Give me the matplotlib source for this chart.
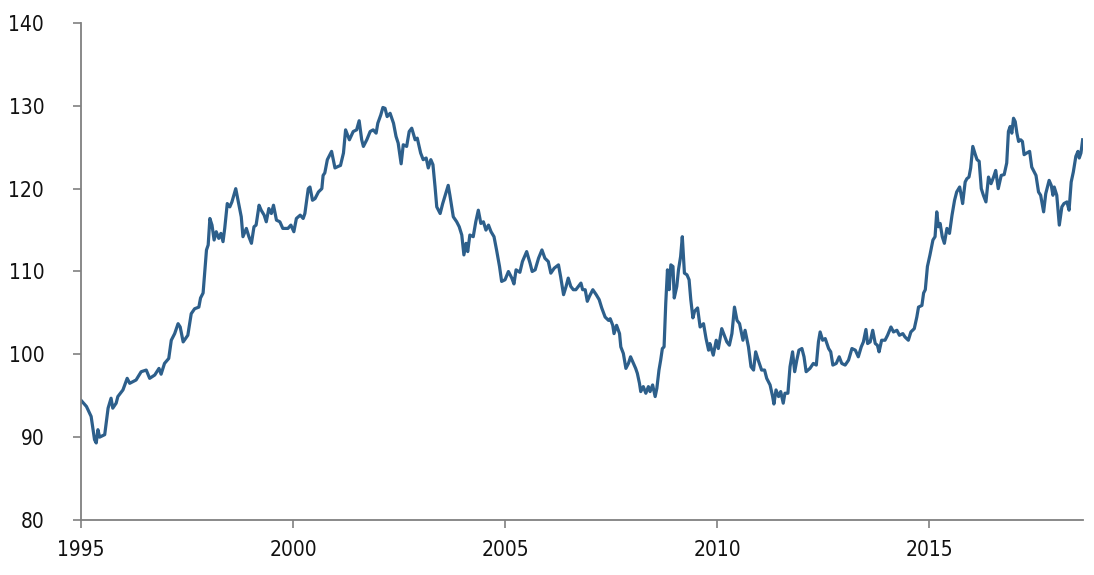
import matplotlib
matplotlib.use("Agg")
import matplotlib.pyplot as plt

# index level (decimal year, value)
years = [
    1995.01, 1995.13, 1995.24, 1995.32, 1995.36, 1995.40, 1995.44, 1995.56, 1995.64, 1995.71,
    1995.75, 1995.83, 1995.87, 1995.99, 1996.09, 1996.15, 1996.30, 1996.42, 1996.54, 1996.62,
    1996.74, 1996.84, 1996.89, 1996.97, 1997.07, 1997.13, 1997.21, 1997.29, 1997.34, 1997.41,
    1997.52, 1997.60, 1997.68, 1997.78, 1997.82, 1997.88, 1997.96, 1998.00, 1998.04, 1998.09,
    1998.14, 1998.19, 1998.25, 1998.30, 1998.35, 1998.39, 1998.45, 1998.51, 1998.56, 1998.65,
    1998.72, 1998.78, 1998.82, 1998.90, 1998.96, 1999.02, 1999.08, 1999.13, 1999.20, 1999.25,
    1999.32, 1999.37, 1999.43, 1999.49, 1999.54, 1999.61, 1999.69, 1999.76, 1999.88, 1999.95,
    2000.02, 2000.08, 2000.17, 2000.24, 2000.28, 2000.36, 2000.40, 2000.46, 2000.52, 2000.60,
    2000.68, 2000.71, 2000.75, 2000.81, 2000.91, 2000.99, 2001.07, 2001.12, 2001.19, 2001.24,
    2001.33, 2001.42, 2001.50, 2001.56, 2001.62, 2001.66, 2001.74, 2001.82, 2001.89, 2001.96,
    2002.00, 2002.07, 2002.12, 2002.17, 2002.22, 2002.29, 2002.37, 2002.43, 2002.48, 2002.55,
    2002.60, 2002.68, 2002.74, 2002.80, 2002.88, 2002.93, 2003.01, 2003.07, 2003.14, 2003.19,
    2003.25, 2003.30, 2003.35, 2003.39, 2003.47, 2003.53, 2003.59, 2003.66, 2003.70, 2003.78,
    2003.86, 2003.92, 2003.98, 2004.03, 2004.08, 2004.12, 2004.17, 2004.25, 2004.31, 2004.37,
    2004.43, 2004.49, 2004.55, 2004.61, 2004.67, 2004.74, 2004.80, 2004.87, 2004.92, 2005.00,
    2005.08, 2005.16, 2005.21, 2005.26, 2005.35, 2005.41, 2005.51, 2005.59, 2005.64, 2005.71,
    2005.79, 2005.87, 2005.94, 2006.02, 2006.08, 2006.16, 2006.26, 2006.31, 2006.38, 2006.44,
    2006.49, 2006.55, 2006.61, 2006.67, 2006.73, 2006.79, 2006.83, 2006.89, 2006.94, 2006.99,
    2007.07, 2007.15, 2007.22, 2007.28, 2007.36, 2007.44, 2007.48, 2007.54, 2007.57, 2007.63,
    2007.70, 2007.73, 2007.79, 2007.85, 2007.91, 2007.96, 2008.03, 2008.08, 2008.12, 2008.17,
    2008.20, 2008.26, 2008.32, 2008.38, 2008.42, 2008.48, 2008.54, 2008.58, 2008.63, 2008.67,
    2008.71, 2008.75, 2008.79, 2008.83, 2008.87, 2008.91, 2008.96, 2008.99, 2009.05, 2009.09,
    2009.14, 2009.18, 2009.23, 2009.29, 2009.34, 2009.38, 2009.43, 2009.47, 2009.54, 2009.60,
    2009.68, 2009.74, 2009.80, 2009.83, 2009.91, 2009.98, 2010.03, 2010.11, 2010.17, 2010.23,
    2010.29, 2010.35, 2010.41, 2010.47, 2010.53, 2010.61, 2010.66, 2010.74, 2010.80, 2010.86,
    2010.91, 2010.97, 2011.05, 2011.12, 2011.17, 2011.25, 2011.31, 2011.34, 2011.39, 2011.45,
    2011.50, 2011.56, 2011.60, 2011.67, 2011.72, 2011.78, 2011.83, 2011.88, 2011.93, 2012.00,
    2012.05, 2012.10, 2012.19, 2012.27, 2012.34, 2012.39, 2012.43, 2012.49, 2012.55, 2012.63,
    2012.68, 2012.73, 2012.81, 2012.88, 2012.94, 2013.02, 2013.10, 2013.18, 2013.26, 2013.33,
    2013.40, 2013.45, 2013.51, 2013.55, 2013.61, 2013.67, 2013.73, 2013.78, 2013.82, 2013.88,
    2013.96, 2014.02, 2014.10, 2014.16, 2014.24, 2014.30, 2014.38, 2014.43, 2014.51, 2014.57,
    2014.65, 2014.71, 2014.75, 2014.83, 2014.87, 2014.91, 2014.96, 2015.02, 2015.09, 2015.14,
    2015.18, 2015.22, 2015.26, 2015.31, 2015.36, 2015.42, 2015.48, 2015.54, 2015.60, 2015.65,
    2015.72, 2015.75, 2015.79, 2015.85, 2015.89, 2015.94, 2015.98, 2016.03, 2016.09, 2016.13,
    2016.18, 2016.23, 2016.28, 2016.34, 2016.40, 2016.46, 2016.52, 2016.57, 2016.63, 2016.70,
    2016.77, 2016.83, 2016.87, 2016.91, 2016.95, 2016.99, 2017.03, 2017.07, 2017.11, 2017.16,
    2017.20, 2017.24, 2017.30, 2017.37, 2017.42, 2017.48, 2017.52, 2017.58, 2017.63, 2017.70,
    2017.75, 2017.83, 2017.88, 2017.92, 2017.95, 2018.01, 2018.07, 2018.13, 2018.18, 2018.25,
    2018.30, 2018.35, 2018.40, 2018.46, 2018.51, 2018.54, 2018.58, 2018.62,
]
index_values = [
    94.4, 93.7, 92.5, 89.7, 89.3, 90.9, 90.0, 90.3, 93.5, 94.7,
    93.5, 94.1, 94.9, 95.7, 97.1, 96.5, 96.9, 97.9, 98.1, 97.1,
    97.5, 98.3, 97.6, 98.9, 99.5, 101.7, 102.5, 103.7, 103.3, 101.5,
    102.3, 104.9, 105.5, 105.7, 106.8, 107.4, 112.6, 113.2, 116.4, 115.6,
    113.8, 114.8, 114.0, 114.6, 113.6, 115.2, 118.2, 117.8, 118.4, 120.0,
    118.2, 116.6, 114.2, 115.2, 114.2, 113.4, 115.4, 115.6, 118.0, 117.4,
    116.8, 116.0, 117.6, 117.0, 118.0, 116.2, 116.0, 115.2, 115.2, 115.6,
    114.8, 116.4, 116.8, 116.4, 117.0, 120.0, 120.2, 118.6, 118.8, 119.6,
    120.0, 121.6, 121.9, 123.5, 124.5, 122.5, 122.7, 122.8, 124.3, 127.1,
    125.9, 126.9, 127.1, 128.2, 125.9, 125.1, 125.9, 126.9, 127.1, 126.7,
    127.9, 128.9, 129.8, 129.7, 128.7, 129.1, 127.9, 126.3, 125.5, 123.0,
    125.3, 125.1, 126.9, 127.3, 125.9, 126.1, 124.3, 123.5, 123.7, 122.5,
    123.5, 122.9, 120.2, 117.8, 117.0, 118.2, 119.2, 120.4, 119.2, 116.6,
    116.0, 115.4, 114.4, 112.0, 113.4, 112.4, 114.4, 114.2, 116.0, 117.4,
    115.8, 116.0, 115.0, 115.6, 114.8, 114.2, 112.6, 110.6, 108.8, 109.0,
    110.0, 109.2, 108.5, 110.2, 109.9, 111.2, 112.4, 111.0, 110.0, 110.2,
    111.6, 112.6, 111.6, 111.2, 109.8, 110.4, 110.8, 109.4, 107.2, 108.2,
    109.2, 108.2, 107.8, 107.8, 108.2, 108.6, 107.8, 107.8, 106.4, 107.0,
    107.8, 107.2, 106.6, 105.6, 104.5, 104.1, 104.3, 103.5, 102.5, 103.5,
    102.5, 100.9, 100.1, 98.3, 98.9, 99.7, 98.9, 98.3, 97.7, 96.5,
    95.5, 96.1, 95.3, 96.1, 95.5, 96.3, 94.9, 95.9, 98.1, 99.3,
    100.7, 100.9, 106.2, 110.2, 107.8, 110.8, 110.6, 106.8, 108.2, 110.2,
    111.8, 114.2, 109.8, 109.6, 109.0, 106.6, 104.4, 105.2, 105.6, 103.3,
    103.7, 101.9, 100.5, 101.3, 99.9, 101.7, 100.7, 103.1, 102.3, 101.5,
    101.1, 102.5, 105.7, 104.1, 103.7, 101.7, 102.9, 100.9, 98.5, 98.1,
    100.3, 99.3, 98.1, 98.1, 97.1, 96.3, 94.9, 94.0, 95.7, 94.9,
    95.5, 94.1, 95.3, 95.3, 98.5, 100.3, 97.9, 99.3, 100.5, 100.7,
    99.7, 97.9, 98.3, 98.9, 98.7, 101.5, 102.7, 101.7, 101.9, 100.7,
    100.3, 98.7, 98.9, 99.7, 98.9, 98.7, 99.3, 100.7, 100.5, 99.7,
    100.9, 101.5, 103.0, 101.3, 101.5, 102.9, 101.3, 101.1, 100.3, 101.7,
    101.7, 102.3, 103.3, 102.7, 102.9, 102.3, 102.5, 102.1, 101.7, 102.7,
    103.1, 104.5, 105.7, 105.9, 107.4, 107.8, 110.6, 112.0, 113.8, 114.2,
    117.2, 115.4, 115.8, 114.2, 113.4, 115.2, 114.6, 116.8, 118.6, 119.6,
    120.2, 119.4, 118.2, 120.8, 121.2, 121.4, 122.5, 125.1, 124.1, 123.5,
    123.3, 120.0, 119.2, 118.4, 121.4, 120.6, 121.4, 122.2, 120.0, 121.6,
    121.7, 123.1, 126.9, 127.5, 126.7, 128.5, 128.1, 126.7, 125.7, 125.9,
    125.7, 124.1, 124.3, 124.5, 122.6, 122.0, 121.6, 119.6, 119.2, 117.2,
    119.4, 121.0, 120.4, 119.2, 120.2, 119.2, 115.6, 117.8, 118.2, 118.4,
    117.4, 120.8, 122.0, 123.9, 124.5, 123.7, 124.3, 125.9,
]

x_ticks = [1995, 2000, 2005, 2010, 2015]
y_ticks = [80, 90, 100, 110, 120, 130, 140]

# narrow face for the tick labels, like the original's condensed font
plt.rcParams['font.family'] = ['DejaVu Sans']
plt.rcParams['font.stretch'] = 'condensed'

fig = plt.figure(figsize=(10.94, 5.75), dpi=100)
ax = fig.add_axes([0.074, 0.0957, 0.916, 0.8643])

ax.plot(years, index_values, color='#2d5f8b', linewidth=2.3, solid_joinstyle='round')

ax.set_xlim(1995, 2018.63)
ax.set_ylim(80, 140)
ax.set_xticks(x_ticks)
ax.set_yticks(y_ticks)

# only left and bottom axis lines, grey like the original
for side in ['top', 'right']:
    ax.spines[side].set_visible(False)
for side in ['left', 'bottom']:
    ax.spines[side].set_color('#808080')
    ax.spines[side].set_linewidth(1.3)

ax.tick_params(axis='y', direction='out', length=5.5, width=1.2, color='#808080',
               labelsize=15, labelcolor='#111111', pad=21)
ax.tick_params(axis='x', direction='out', length=5.5, width=1.2, color='#808080',
               labelsize=15, labelcolor='#111111', pad=9)

fig.savefig('out.png', dpi=100)
